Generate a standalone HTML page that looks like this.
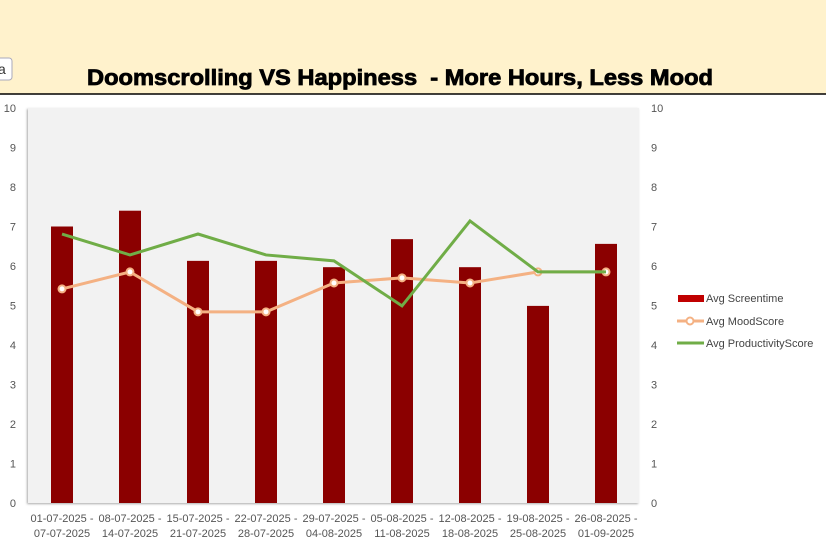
<!DOCTYPE html>
<html><head><meta charset="utf-8"><style>
body{margin:0;width:826px;height:547px;background:#fff;overflow:hidden;font-family:"Liberation Sans",sans-serif}
</style></head><body>
<svg width="826" height="547" xmlns="http://www.w3.org/2000/svg">
<rect x="0" y="0" width="826" height="94" fill="#fff2cc"/>
<line x1="0" y1="94" x2="826" y2="94" stroke="#000" stroke-width="1.5"/>
<rect x="-6" y="58" width="18" height="22" rx="3" fill="#fff" stroke="#aab"/>
<text x="-2" y="74" font-size="14" fill="#333">a</text>
<text x="87" y="85" font-size="22" font-weight="bold" fill="#000" stroke="#000" stroke-width="0.8" textLength="626" lengthAdjust="spacingAndGlyphs" xml:space="preserve">Doomscrolling VS Happiness  - More Hours, Less Mood</text>
<rect x="28" y="108" width="611" height="395" fill="#f2f2f2" style="filter:drop-shadow(-1px 1px 1px #aaa)"/>
<g id="axes"></g><g id="bars"></g><g id="lines"></g>
<g font-size="11" fill="#444">
<rect x="678" y="295" width="26" height="7" fill="#c00000"/>
<text x="706" y="302">Avg Screentime</text>
<line x1="677" y1="321" x2="704" y2="321" stroke="#f4b183" stroke-width="3"/>
<circle cx="690" cy="321" r="3.5" fill="#fff" stroke="#f4b183" stroke-width="2"/>
<text x="706" y="325">Avg MoodScore</text>
<line x1="677" y1="343" x2="704" y2="343" stroke="#70ad47" stroke-width="3"/>
<text x="706" y="347">Avg ProductivityScore</text>
</g>
</svg>
<script>
const categories=[["01-07-2025 -","07-07-2025"],["08-07-2025 -","14-07-2025"],["15-07-2025 -","21-07-2025"],["22-07-2025 -","28-07-2025"],["29-07-2025 -","04-08-2025"],["05-08-2025 -","11-08-2025"],["12-08-2025 -","18-08-2025"],["19-08-2025 -","25-08-2025"],["26-08-2025 -","01-09-2025"]];
const screentime=[7.0,7.4,6.13,6.13,5.97,6.68,5.97,4.99,6.56];
const mood=[5.42,5.85,4.84,4.84,5.57,5.7,5.57,5.85,5.85];
const productivity=[6.81,6.28,6.81,6.28,6.13,4.99,7.14,5.85,5.85];
const ticks=[0,1,2,3,4,5,6,7,8,9,10];
const NS="http://www.w3.org/2000/svg";
const y=v=>503-v*39.5;
const x=i=>62+i*68;
function mk(t,a,p){const e=document.createElementNS(NS,t);for(const k in a)e.setAttribute(k,a[k]);p.appendChild(e);return e;}
const ax=document.getElementById('axes');
ticks.forEach(t=>{
 const l=mk('text',{x:16,y:y(t)+4,'text-anchor':'end','font-size':11,fill:'#555'},ax);l.textContent=t;
 
 
 const r=mk('text',{x:651,y:y(t)+4,'font-size':11,fill:'#555'},ax);r.textContent=t;
 
 
});
categories.forEach((c,i)=>{
 const t=mk('text',{x:x(i),y:522,'text-anchor':'middle','font-size':11,fill:'#555'},ax);
 
 
 mk('tspan',{x:x(i),dy:0},t).textContent=c[0];
 mk('tspan',{x:x(i),dy:15},t).textContent=c[1];
});
const bg=document.getElementById('bars');
screentime.forEach((v,i)=>{
 const b=mk('rect',{x:x(i)-11,y:y(v),width:22,height:503-y(v),fill:'#8b0000'},bg);
 
 
});
const lg=document.getElementById('lines');
const pm=mk('polyline',{points:mood.map((v,i)=>x(i)+','+y(v)).join(' '),fill:'none',stroke:'#f4b183','stroke-width':3},lg);


mood.forEach((v,i)=>{
 const c=mk('circle',{cx:x(i),cy:y(v),r:3.5,fill:'#fff',stroke:'#f4b183','stroke-width':2},lg);
 
 
});
const pp=mk('polyline',{points:productivity.map((v,i)=>x(i)+','+y(v)).join(' '),fill:'none',stroke:'#70ad47','stroke-width':3},lg);


</script>
</body></html>
